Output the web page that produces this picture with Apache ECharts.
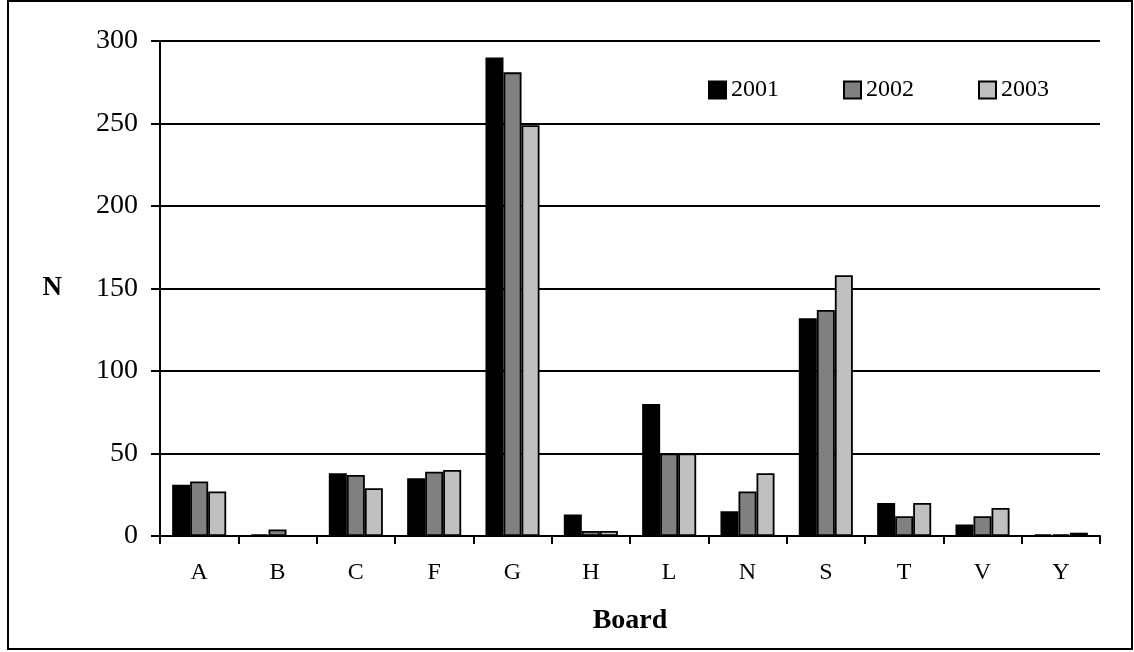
<!DOCTYPE html>
<html>
<head>
<meta charset="utf-8">
<script src="https://cdn.jsdelivr.net/npm/echarts@6/dist/echarts.min.js"></script>
<style>
  html, body { margin: 0; padding: 0; background: #fff; }
  #chart { width: 1134px; height: 652px; }
</style>
</head>
<body>
<div id="chart"></div>
<script>
// Counts per board, 2001-2003
const boards = ['A', 'B', 'C', 'F', 'G', 'H', 'L', 'N', 'S', 'T', 'V', 'Y'];
const years = ['2001', '2002', '2003'];
const n2001 = [31, 1, 38, 35, 290, 13, 80, 15, 132, 20, 7, 1];
const n2002 = [33, 4, 37, 39, 281, 3, 50, 27, 137, 12, 12, 1];
const n2003 = [27, 0, 29, 40, 249, 3, 50, 38, 158, 20, 17, 2];
const yTicks = [0, 50, 100, 150, 200, 250, 300];

const fills = ['#000000', '#808080', '#c0c0c0'];
const serif = '"Liberation Serif", "DejaVu Serif", serif';

const chart = echarts.init(document.getElementById('chart'));

const seriesData = [n2001, n2002, n2003];

chart.setOption({
  animation: false,
  backgroundColor: '#ffffff',
  textStyle: { fontFamily: serif, color: '#000' },
  graphic: [{
    type: 'rect',
    shape: { x: 8, y: 1, width: 1124, height: 648 },
    style: { fill: 'none', stroke: '#000', lineWidth: 2 },
    silent: true
  }],
  legend: {
    left: 708,
    top: 78,
    padding: 0,
    itemWidth: 17,
    itemHeight: 17,
    itemGap: 64,
    icon: 'rect',
    textStyle: { fontFamily: serif, fontSize: 24, color: '#000' },
    data: years
  },
  grid: { left: 160, right: 34, top: 41, bottom: 116, containLabel: false },
  xAxis: {
    type: 'category',
    data: boards,
    name: 'Board',
    nameLocation: 'middle',
    nameGap: 71,
    nameTextStyle: { fontFamily: serif, fontSize: 28, fontWeight: 'bold', color: '#000' },
    axisLine: { lineStyle: { color: '#000', width: 2 } },
    axisTick: { show: true, alignWithLabel: false, length: 8, lineStyle: { color: '#000', width: 2 } },
    axisLabel: { fontFamily: serif, fontSize: 24, color: '#000', margin: 25 }
  },
  yAxis: {
    type: 'value',
    min: yTicks[0],
    max: yTicks[yTicks.length - 1],
    interval: 50,
    name: 'N',
    nameLocation: 'middle',
    nameRotate: 0,
    nameGap: 98,
    nameTextStyle: { fontFamily: serif, fontSize: 27, fontWeight: 'bold', color: '#000' },
    axisLine: { show: true, lineStyle: { color: '#000', width: 2 } },
    axisTick: { show: true, length: 9, lineStyle: { color: '#000', width: 2 } },
    axisLabel: { fontFamily: serif, fontSize: 28, color: '#000', margin: 22 },
    splitLine: { show: true, lineStyle: { color: '#000', width: 2 } }
  },
  series: years.map((y, i) => ({
    name: y,
    type: 'bar',
    data: seriesData[i],
    barGap: '0%',
    barCategoryGap: '31%',
    itemStyle: { color: fills[i], borderColor: '#000', borderWidth: 1.8 }
  }))
});
</script>
</body>
</html>
